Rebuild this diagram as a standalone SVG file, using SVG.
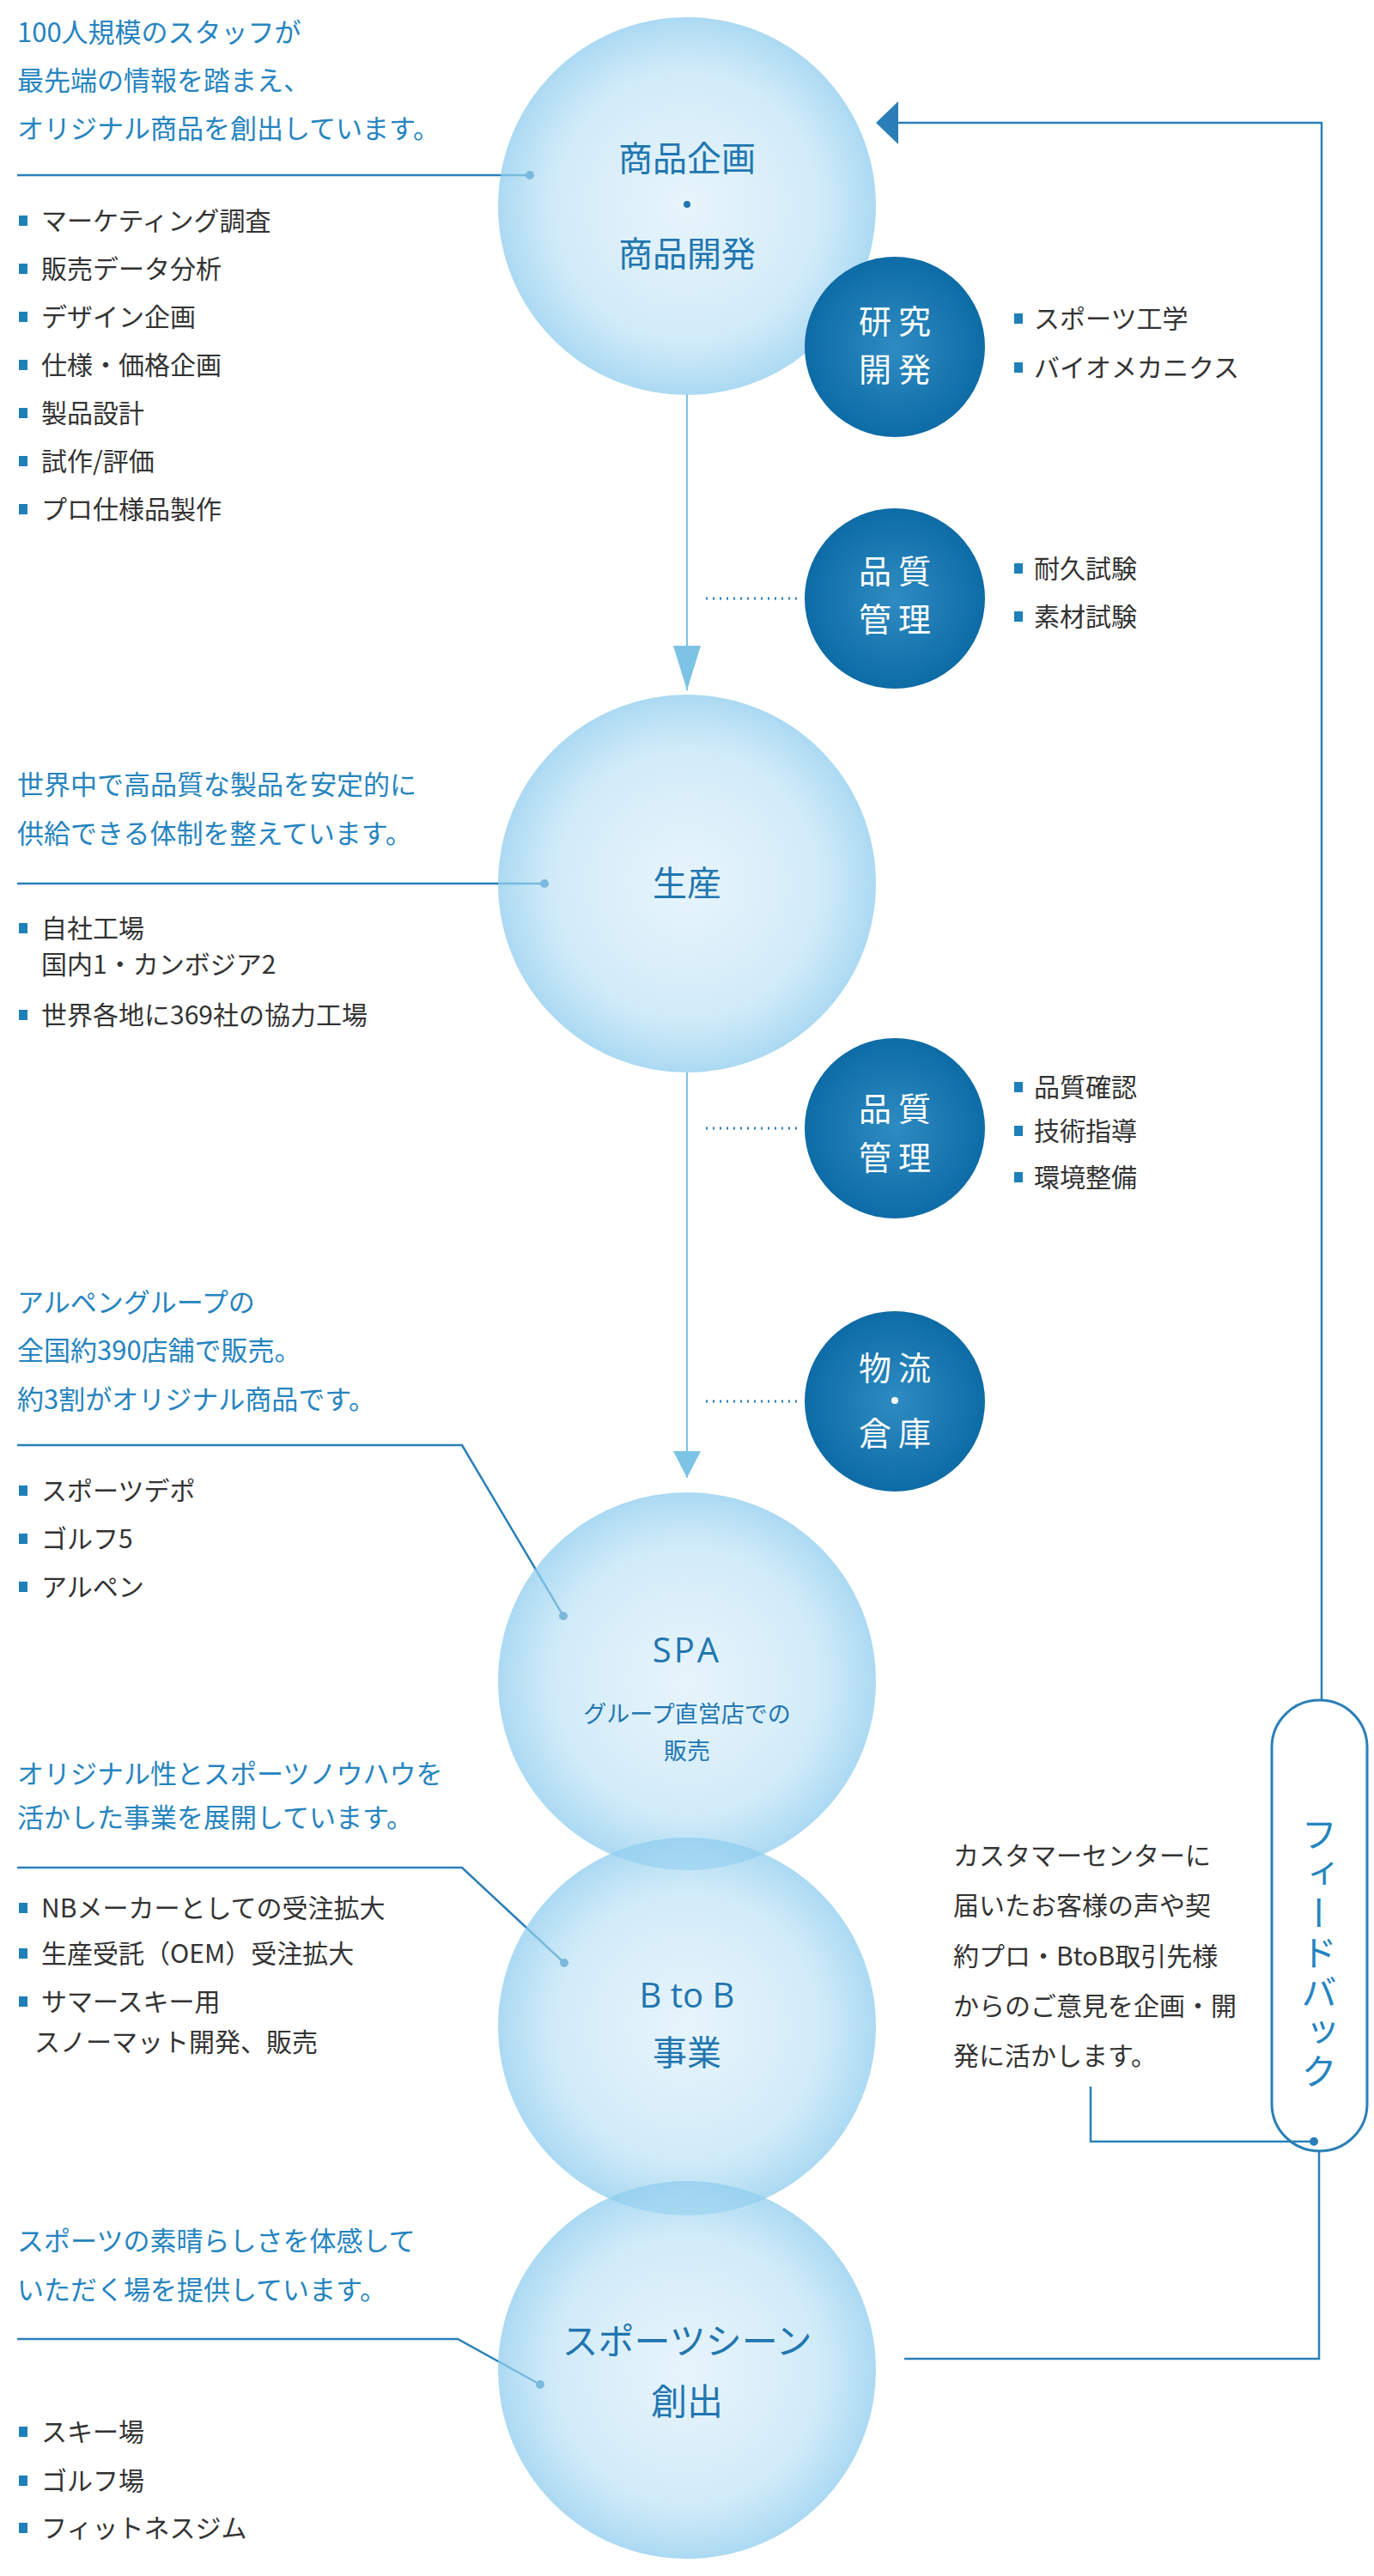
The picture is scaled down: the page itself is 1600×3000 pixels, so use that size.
<svg xmlns="http://www.w3.org/2000/svg" width="1600" height="3000" viewBox="0 0 1600 3000">
<style>
text{font-family:"Noto Sans CJK JP","Noto Sans",sans-serif}
.d{fill:#2584bf;font-size:31px}
.b{fill:#333;font-size:30px}
.sq{fill:#1f7fb9}
.ct{fill:#2176b0;font-size:40px;text-anchor:middle}
.wt{fill:#fff;font-size:38px;text-anchor:middle;letter-spacing:8px}
.ln{stroke:#2a7fb8;stroke-width:2.5;fill:none}
.dot{stroke:#2a7fb8;stroke-width:3;stroke-dasharray:2 6;fill:none}
</style>
<defs>
<radialGradient id="g1"><stop offset="0" stop-color="#cfe9f8" stop-opacity="0.5"/><stop offset="0.7" stop-color="#b3def4" stop-opacity="0.6"/><stop offset="1" stop-color="#8fcdee" stop-opacity="0.75"/></radialGradient>
<radialGradient id="g2"><stop offset="0" stop-color="#2f8cc2"/><stop offset="1" stop-color="#0d6ba6"/></radialGradient>
</defs>
<g id="connectors">
<line x1="800" y1="459" x2="800" y2="804" stroke="#7cc3e6" stroke-width="2"/>
<path d="M784,752L800,804L816,752z" fill="#7cc3e6"/>
<line x1="800" y1="1249" x2="800" y2="1721" stroke="#7cc3e6" stroke-width="2"/>
<path d="M784,1690L800,1721L816,1690z" fill="#7cc3e6"/>
<path class="dot" d="M822,697H934M822,1314H934M822,1632H934"/>
<path class="ln" d="M1539,1980V143H1040"/>
<path d="M1020,143L1046,118V168z" fill="#2a7fb8"/>
<path class="ln" d="M1536,2505V2747H1053"/>
<path class="ln" d="M20,204H617"/><circle cx="617" cy="204" r="5" fill="#2a7fb8"/>
<path class="ln" d="M20,1029H634"/><circle cx="634" cy="1029" r="5" fill="#2a7fb8"/>
<path class="ln" d="M20,1683H538L656,1882"/><circle cx="656" cy="1882" r="5" fill="#2a7fb8"/>
<path class="ln" d="M20,2175H538L657,2286"/><circle cx="657" cy="2286" r="5" fill="#2a7fb8"/>
<path class="ln" d="M20,2724H533L629,2777"/><circle cx="629" cy="2777" r="5" fill="#2a7fb8"/>
</g>
<g id="n1"><circle cx="800" cy="240" r="220" fill="url(#g1)"/>
<text class="ct" x="800" y="199">商品企画</text><circle cx="800" cy="238" r="4" fill="#2176b0"/><text class="ct" x="800" y="310">商品開発</text></g>
<g id="n2"><circle cx="800" cy="1029" r="220" fill="url(#g1)"/><text class="ct" x="800" y="1043">生産</text></g>
<g id="n3"><circle cx="800" cy="1958" r="220" fill="url(#g1)"/><text class="ct" x="800" y="1936" style="font-family:'Open Sans',sans-serif;letter-spacing:3px">SPA</text>
<text class="ct" x="800" y="2006" style="font-size:27px">グループ直営店での</text><text class="ct" x="800" y="2049" style="font-size:27px">販売</text></g>
<g id="n4"><circle cx="800" cy="2360" r="220" fill="url(#g1)"/><text class="ct" x="800" y="2338" style="font-family:'Open Sans',sans-serif">B to B</text><text class="ct" x="800" y="2405">事業</text></g>
<g id="n5"><circle cx="800" cy="2760" r="220" fill="url(#g1)"/><text class="ct" x="800" y="2742" style="font-size:42px">スポーツシーン</text><text class="ct" x="800" y="2812" style="font-size:42px">創出</text></g>
<g id="s1"><circle cx="1042" cy="404" r="105" fill="url(#g2)"/><text class="wt" x="1046" y="388">研究</text><text class="wt" x="1046" y="444">開発</text></g>
<g id="s2"><circle cx="1042" cy="697" r="105" fill="url(#g2)"/><text class="wt" x="1046" y="679">品質</text><text class="wt" x="1046" y="735">管理</text></g>
<g id="s3"><circle cx="1042" cy="1314" r="105" fill="url(#g2)"/><text class="wt" x="1046" y="1305">品質</text><text class="wt" x="1046" y="1362">管理</text></g>
<g id="s4"><circle cx="1042" cy="1632" r="105" fill="url(#g2)"/><text class="wt" x="1046" y="1607">物流</text><circle cx="1042" cy="1631" r="4" fill="#fff"/><text class="wt" x="1046" y="1683">倉庫</text></g>
<g id="feedback"><rect x="1481" y="1980" width="111" height="525" rx="55" fill="#fff" stroke="#2a7fb8" stroke-width="3"/>
<text x="1536" y="2115" style="fill:#2584bf;font-size:42px;writing-mode:vertical-rl;letter-spacing:4px" text-anchor="start">フィードバック</text></g>
<g id="cc-link"><path class="ln" d="M1270,2430V2494H1530"/><circle cx="1530" cy="2494" r="5" fill="#2a7fb8"/></g>
<g id="cc" class="b">
<text x="1110" y="2172">カスタマーセンターに</text><text x="1110" y="2230">届いたお客様の声や契</text><text x="1110" y="2289">約プロ・BtoB取引先様</text><text x="1110" y="2347">からのご意見を企画・開</text><text x="1110" y="2405">発に活かします。</text></g>
<g id="t1">
<text class="d" x="20" y="49">100人規模のスタッフが</text><text class="d" x="20" y="105">最先端の情報を踏まえ、</text><text class="d" x="20" y="161">オリジナル商品を創出しています。</text>
<g class="b"><text x="48" y="268">マーケティング調査</text><text x="48" y="324">販売データ分析</text><text x="48" y="380">デザイン企画</text><text x="48" y="436">仕様・価格企画</text><text x="48" y="492">製品設計</text><text x="48" y="548">試作/評価</text><text x="48" y="604">プロ仕様品製作</text></g>
<g class="sq"><rect x="22" y="251" width="10" height="12"/><rect x="22" y="307" width="10" height="12"/><rect x="22" y="363" width="10" height="12"/><rect x="22" y="419" width="10" height="12"/><rect x="22" y="475" width="10" height="12"/><rect x="22" y="531" width="10" height="12"/><rect x="22" y="587" width="10" height="12"/></g></g>
<g id="t2">
<g class="b"><text x="1204" y="382">スポーツ工学</text><text x="1204" y="439">バイオメカニクス</text><text x="1204" y="673">耐久試験</text><text x="1204" y="729">素材試験</text><text x="1204" y="1277">品質確認</text><text x="1204" y="1328">技術指導</text><text x="1204" y="1382">環境整備</text></g>
<g class="sq"><rect x="1181" y="365" width="10" height="12"/><rect x="1181" y="422" width="10" height="12"/><rect x="1181" y="656" width="10" height="12"/><rect x="1181" y="712" width="10" height="12"/><rect x="1181" y="1260" width="10" height="12"/><rect x="1181" y="1311" width="10" height="12"/><rect x="1181" y="1365" width="10" height="12"/></g></g>
<g id="t3">
<text class="d" x="20" y="925">世界中で高品質な製品を安定的に</text><text class="d" x="20" y="982">供給できる体制を整えています。</text>
<g class="b"><text x="48" y="1092">自社工場</text><text x="48" y="1134">国内1・カンボジア2</text><text x="48" y="1193">世界各地に369社の協力工場</text></g>
<g class="sq"><rect x="22" y="1075" width="10" height="12"/><rect x="22" y="1176" width="10" height="12"/></g></g>
<g id="t4">
<text class="d" x="20" y="1528">アルペングループの</text><text class="d" x="20" y="1584">全国約390店舗で販売。</text><text class="d" x="20" y="1641">約3割がオリジナル商品です。</text>
<g class="b"><text x="48" y="1747">スポーツデポ</text><text x="48" y="1803">ゴルフ5</text><text x="48" y="1859">アルペン</text></g>
<g class="sq"><rect x="22" y="1730" width="10" height="12"/><rect x="22" y="1786" width="10" height="12"/><rect x="22" y="1842" width="10" height="12"/></g></g>
<g id="t5">
<text class="d" x="20" y="2077">オリジナル性とスポーツノウハウを</text><text class="d" x="20" y="2128">活かした事業を展開しています。</text>
<g class="b"><text x="48" y="2233">NBメーカーとしての受注拡大</text><text x="48" y="2286">生産受託（OEM）受注拡大</text><text x="48" y="2342">サマースキー用</text><text x="40" y="2389">スノーマット開発、販売</text></g>
<g class="sq"><rect x="22" y="2216" width="10" height="12"/><rect x="22" y="2269" width="10" height="12"/><rect x="22" y="2325" width="10" height="12"/></g></g>
<g id="t6">
<text class="d" x="20" y="2621">スポーツの素晴らしさを体感して</text><text class="d" x="20" y="2678">いただく場を提供しています。</text>
<g class="b"><text x="48" y="2843">スキー場</text><text x="48" y="2900">ゴルフ場</text><text x="48" y="2955">フィットネスジム</text></g>
<g class="sq"><rect x="22" y="2826" width="10" height="12"/><rect x="22" y="2883" width="10" height="12"/><rect x="22" y="2938" width="10" height="12"/></g></g>
</svg>
